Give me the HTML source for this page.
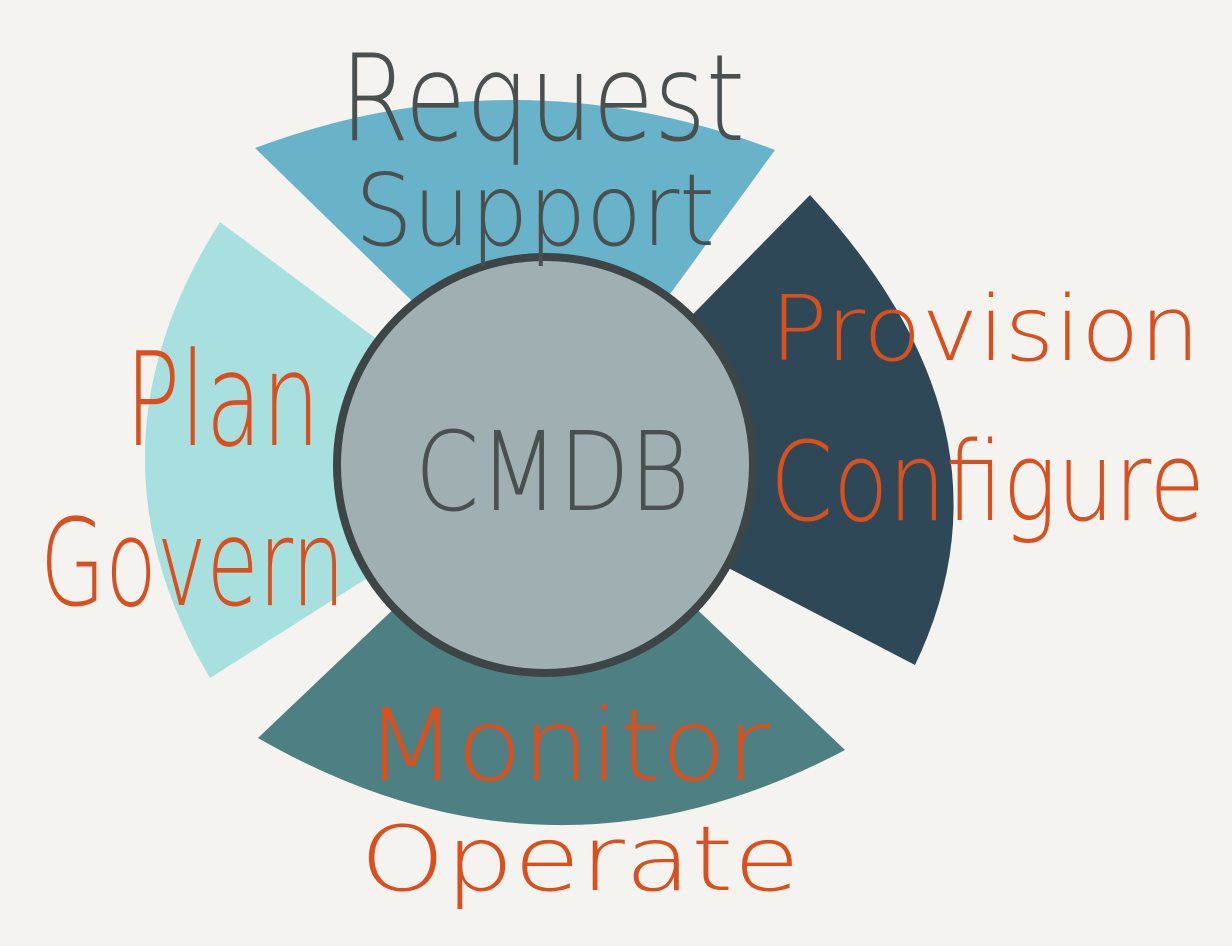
<!DOCTYPE html>
<html><head><meta charset="utf-8"><style>
html,body{margin:0;padding:0;background:#f5f3ef;}
svg{display:block;}
text{font-family:"DejaVu Sans","Liberation Sans",sans-serif;font-weight:200;}
</style></head><body>
<svg width="1232" height="946" viewBox="0 0 1232 946" xmlns="http://www.w3.org/2000/svg">
<rect width="1232" height="946" fill="#f5f3ef"/>
<path d="M255,148 Q515,51 775,150 L560,445 Z" fill="#68b3c9"/>
<path d="M810,195 Q1028,430 915,665 L540,470 Z" fill="#2f4858"/>
<path d="M258,738 Q550,906 845,750 L545,465 Z" fill="#4e7f82"/>
<path d="M220,222 Q75,450 210,678 L545,465 Z" fill="#a8e0e0"/>
<circle cx="545" cy="465" r="208" fill="#a0b0b2" stroke="#3d4547" stroke-width="8"/>
<g fill="#4a4f50">
<text x="340" y="140" font-size="120" textLength="405" lengthAdjust="spacingAndGlyphs">Request</text>
<text x="355" y="245" font-size="100" textLength="360" lengthAdjust="spacingAndGlyphs">Support</text>
<text x="415" y="510" font-size="110" textLength="275" lengthAdjust="spacingAndGlyphs">CMDB</text>
</g>
<g fill="#d9501e">
<text x="125" y="445" font-size="130" textLength="195" lengthAdjust="spacingAndGlyphs">Plan</text>
<text x="40" y="605" font-size="120" textLength="305" lengthAdjust="spacingAndGlyphs">Govern</text>
<text x="770" y="360" font-size="90" textLength="430" lengthAdjust="spacingAndGlyphs">Provision</text>
<text x="770" y="520" font-size="110" textLength="435" lengthAdjust="spacingAndGlyphs">Configure</text>
<text x="365" y="780" font-size="100" textLength="405" lengthAdjust="spacingAndGlyphs">Monitor</text>
<text x="360" y="890" font-size="90" textLength="440" lengthAdjust="spacingAndGlyphs">Operate</text>
</g>
</svg>
</body></html>
